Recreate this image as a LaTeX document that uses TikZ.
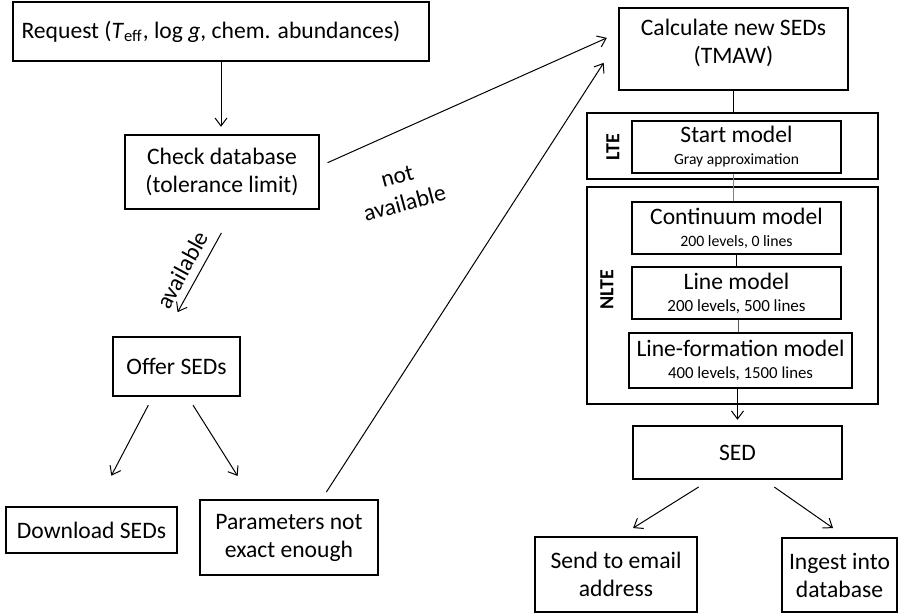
\documentclass[tikz,border=0pt]{standalone}
\usepackage{fontspec}
\setmainfont{Carlito}
\usepackage{tikz}
\usetikzlibrary{arrows.meta}
\tikzstyle{Box}=[draw,line width=1.2pt,inner sep=0pt,align=center,
font=\fontsize{11.8}{14}\selectfont]
\tikzstyle{Frame}=[draw,line width=1.2pt,inner sep=0pt]
\tikzstyle{Edge}=[draw,line width=.5pt,-{Straight Barb[length=4pt,width=6pt]}]
\tikzstyle{Link}=[draw,line width=.5pt]
\tikzstyle{Tag}=[font=\bfseries\fontsize{10}{12}\selectfont,rotate=90]
\tikzstyle{EdgeLabel}=[align=center,font=\fontsize{11.8}{14}\selectfont]
\newcommand{\SubLine}[2][7]{{\fontsize{#1}{#1}\selectfont #2}}

\begin{document}
\begin{tikzpicture}[x=.5pt,y=-.5pt]
        \useasboundingbox(0,0)rectangle(900,616);
        \node[Frame,minimum width=145.5pt,minimum height=33pt](lte)at(732.5,146){};
        \node[Frame,minimum width=145.5pt,minimum height=108.5pt](nlte)at(732.5,295.5){};
        \node[Tag](lteTag)at(613,147){LTE};
        \node[Tag](nlteTag)at(607,290){NLTE};
        \node[Box,minimum width=208pt,minimum height=29.5pt](req)at(221,31.5)
            {Request (\textit{T}\textsubscript{eff}, log \textit{g}, chem. abundances)\hspace*{10pt}};
        \node[Box,minimum width=97pt,minimum height=37pt](chk)at(222,172)
            {Check database\\(tolerance limit)};
        \node[Box,minimum width=63.5pt,minimum height=29.5pt](offer)at(176.5,366.5){Offer SEDs};
        \node[Box,minimum width=85.5pt,minimum height=23pt](dl)at(91.5,530){Download SEDs};
        \node[Box,minimum width=89pt,minimum height=37.5pt](par)at(289,537.5)
            {Parameters not\\exact enough};
        \node[Box,minimum width=114.5pt,minimum height=41pt](calc)at(733.5,49)
            {Calculate new SEDs\\(TMAW)\\[-6pt]\mbox{}};
        \node[Box,minimum width=104.5pt,minimum height=26pt](start)at(736.5,147)
            {Start model\\[-3pt]\SubLine[7.8]{Gray approximation}};
        \node[Box,minimum width=104.5pt,minimum height=26pt](cont)at(736.5,228)
            {Continuum model\\[-3pt]\SubLine[7.9]{200 levels, 0 lines}};
        \node[Box,minimum width=104.5pt,minimum height=26pt](line)at(736.5,293)
            {Line model\\[-3pt]\SubLine[8.5]{200 levels, 500 lines}};
        \node[Box,minimum width=111.5pt,minimum height=27.5pt](lfm)at(740.5,360.5)
            {Line-formation model\\[-3pt]\SubLine[8.4]{400 levels, 1500 lines}};
        \node[Box,minimum width=104.5pt,minimum height=26.5pt](sed)at(737.5,452.5){SED};
        \node[Box,minimum width=81pt,minimum height=37.5pt](mail)at(616,574.5)
            {Send to email\\address};
        \node[Box,minimum width=57.5pt,minimum height=37pt](ing)at(839.5,575)
            {Ingest into\\database};
        \node[EdgeLabel,rotate=15](na)at(401,190){not\\available};
        \node[EdgeLabel,rotate=61.5](av)at(182,270){available};
        \draw[Edge,shorten >=3.5pt](req.south)--(req.south|-chk.north);
        \draw[Edge,shorten <=4pt,shorten >=6pt]([yshift=3pt]chk.east)--([yshift=8pt]calc.west);
        \draw[Edge,shorten <=13pt,shorten >=13.5pt]([xshift=6pt]chk.south)--([xshift=-6pt]offer.north);
        \draw[Edge,shorten <=4.5pt,shorten >=17pt]([xshift=-12pt]offer.south)--([xshift=2pt]dl.north);
        \draw[Edge,shorten <=4.7pt,shorten >=13.5pt]([xshift=5.75pt]offer.south)--([xshift=-18.5pt]par.north);
        \draw[Edge,shorten <=4pt,shorten >=13pt]([xshift=16.5pt]par.north)--([yshift=4pt]calc.west);
        \draw[Link](calc.south)--(calc.south|-lte.north);
        \draw[Link,gray]([xshift=-1.75pt]start.south)--([xshift=-1.75pt]start.south|-cont.north);
        \draw[Link](cont.south)--(cont.south|-line.north);
        \draw[Link,gray!70!black]([xshift=.75pt]line.south)--([xshift=.75pt]line.south|-lfm.north);
        \draw[Edge,shorten >=2.5pt](sed.north|-lfm.south)--(sed.north);
        \draw[Edge,shorten <=6.4pt,shorten >=7.3pt]([xshift=-14pt]sed.south)--([xshift=2.35pt]mail.north);
        \draw[Edge,shorten <=6pt,shorten >=7.6pt]([xshift=13.5pt]sed.south)--([xshift=3pt]ing.north);
    \end{tikzpicture}
\end{document}
